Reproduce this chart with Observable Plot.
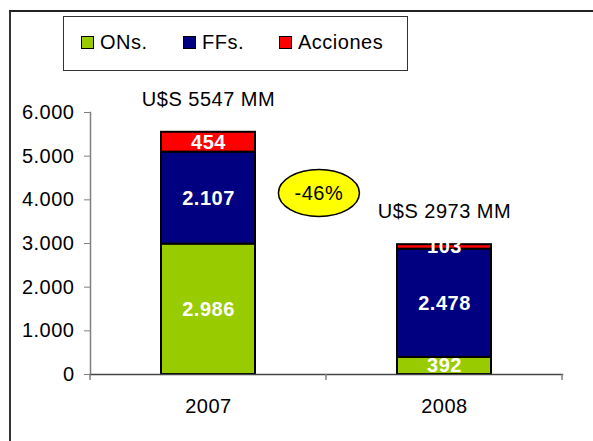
<!DOCTYPE html>
<html>
<head>
<meta charset="utf-8">
<script src="https://cdn.jsdelivr.net/npm/d3@7"></script>
<script src="https://cdn.jsdelivr.net/npm/@observablehq/plot@0.6"></script>
<style>
  html, body { margin: 0; padding: 0; background: #fff; }
  #wrap { position: relative; width: 593px; height: 441px; font-family: "Liberation Sans", Arial, sans-serif; }
  #frame { position: absolute; left: 9px; top: 10px; right: 0; bottom: 0; border-top: 2px solid #222; border-left: 2px solid #333; pointer-events: none; }
  #legend { position: absolute; left: 63px; top: 16px; width: 345px; height: 55px; border: 1px solid #333; box-sizing: border-box; background: #fff; }
  .item { position: absolute; top: 14px; font-size: 20px; letter-spacing: 0.5px; color: #000; line-height: 22px; white-space: nowrap; }
  .sw { display: inline-block; width: 11px; height: 11px; border: 1.5px solid #000; margin-right: 6px; vertical-align: 0px; }
  #chart { position: absolute; left: 0; top: 0; }
</style>
</head>
<body>
<div id="wrap">
  <div id="chart"></div>
  <div id="frame"></div>
  <div id="legend"></div>
</div>
<script>
const years = ["2007", "2008"];
const seriesNames = ["ONs.", "FFs.", "Acciones"];
const seriesColors = ["#99CC00", "#000080", "#FF0000"];
const valuesONs = [2986, 392];
const valuesFFs = [2107, 2478];
const valuesAcciones = [454, 103];
const totalLabels = ["U$S 5547 MM", "U$S 2973 MM"];
const yTicks = [0, 1000, 2000, 3000, 4000, 5000, 6000];
const changeLabel = "-46%";

const loc = d3.formatLocale({decimal: ",", thousands: ".", grouping: [3], currency: ["$", ""]});
const fmt = loc.format(",d");

const seriesValues = [valuesONs, valuesFFs, valuesAcciones];
const rows = [];
years.forEach((yr, i) => {
  let base = 0;
  seriesNames.forEach((s, j) => {
    const v = seriesValues[j][i];
    rows.push({year: yr, series: s, value: v, y1: base, y2: base + v, mid: base + v / 2});
    base += v;
  });
});
const totals = years.map((yr, i) => ({year: yr, total: d3.sum(seriesValues, s => s[i]), label: totalLabels[i]}));

const font = '"Liberation Sans", Arial, sans-serif';

const plot = Plot.plot({
  width: 593,
  height: 441,
  marginTop: 112,
  marginBottom: 67,
  marginLeft: 90,
  marginRight: 31,
  style: {fontFamily: font, background: "transparent", overflow: "visible", letterSpacing: "0.5px"},
  x: {domain: years, paddingInner: 0.6, paddingOuter: 0.3, label: null},
  y: {domain: [0, 6000], label: null},
  color: {domain: seriesNames, range: seriesColors},
  marks: [
    Plot.axisY({ticks: yTicks, tickFormat: fmt, tickSize: 6, tickPadding: 10, fontSize: 20, stroke: "#808080", strokeOpacity: 1, fill: "#000", label: null}),
    Plot.axisX({tickSize: 0, tickPadding: 24, fontSize: 20, fill: "#000", label: null}),
    Plot.rect(rows, {x: "year", y1: "y1", y2: "y2", fill: "series", stroke: "#000", strokeWidth: 2}),
    Plot.frame({anchor: "left", stroke: "#808080", strokeWidth: 1.5}),
    Plot.frame({anchor: "bottom", stroke: "#444", strokeWidth: 1.5}),
    Plot.text(rows, {x: "year", y: "mid", text: d => fmt(d.value), fill: "#fff", fontWeight: "bold", fontSize: 20}),
    Plot.text(totals, {x: "year", y: "total", text: "label", dy: -33, fontSize: 20, fill: "#000"})
  ]
});
document.getElementById("chart").appendChild(plot);

// category boundary ticks and the change annotation, placed through Plot's scales
const xs = plot.scale("x");
const ys = plot.scale("y");
const svg = d3.select(plot);
const step = xs.step;
const y0 = ys.apply(0);
const bounds = [xs.apply(years[0]) - (step - xs.bandwidth) / 2];
years.forEach(yr => bounds.push(xs.apply(yr) + xs.bandwidth + (step - xs.bandwidth) / 2));
svg.append("g").selectAll("line").data(bounds).join("line")
  .attr("x1", d => d).attr("x2", d => d)
  .attr("y1", y0).attr("y2", y0 + 6)
  .attr("stroke", "#808080").attr("stroke-width", 1.5);

const cx = xs.apply(years[0]) + xs.bandwidth / 2 + step * 0.47;
const cy = ys.apply(4145);
const g = svg.append("g");
g.append("ellipse").attr("cx", cx).attr("cy", cy).attr("rx", 40.5).attr("ry", 23.5)
  .attr("fill", "#FFFF00").attr("stroke", "#000").attr("stroke-width", 1.5);
g.append("text").attr("x", cx).attr("y", cy).attr("dy", "0.35em")
  .attr("text-anchor", "middle").attr("font-size", 20).attr("font-family", font)
  .text(changeLabel);

// legend
const legend = document.getElementById("legend");
const lefts = [17, 119, 215];
seriesNames.forEach((s, i) => {
  const it = document.createElement("div");
  it.className = "item";
  it.style.left = lefts[i] + "px";
  it.innerHTML = `<span class="sw" style="background:${seriesColors[i]}"></span>${s}`;
  legend.appendChild(it);
});
</script>
</body>
</html>
